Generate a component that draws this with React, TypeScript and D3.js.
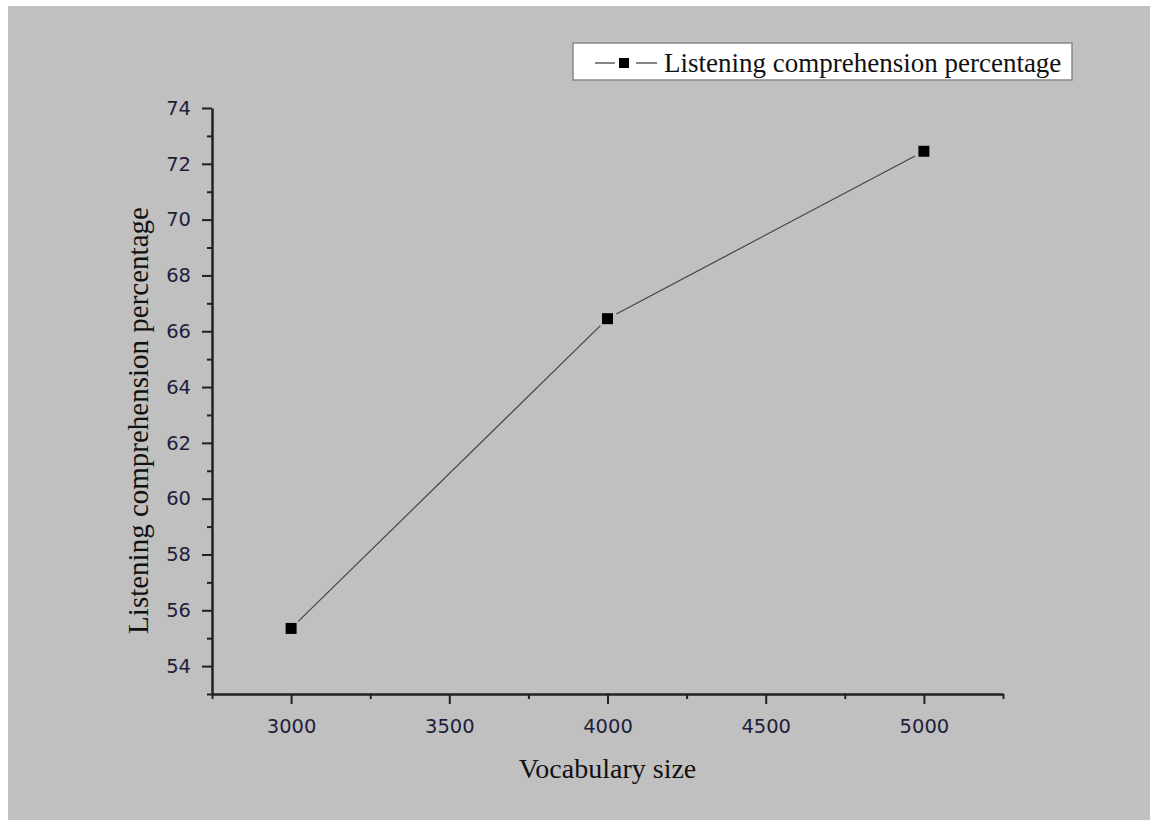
import React, { useRef, useEffect } from "react";
import * as d3 from "d3";

// values
const vocabSizes = [3000, 4000, 5000];
const listeningPct = [55.35, 66.45, 72.45];
const xTicks = [3000, 3500, 4000, 4500, 5000];
const xMinorTicks = [2750, 3250, 3750, 4250, 4750, 5250];
const yTicks = [54, 56, 58, 60, 62, 64, 66, 68, 70, 72, 74];
const yMinorTicks = [53, 55, 57, 59, 61, 63, 65, 67, 69, 71, 73];
const seriesName = "Listening comprehension percentage";
const xTitle = "Vocabulary size";
const yTitle = "Listening comprehension percentage";

const App = () => {
  const svgRef = useRef(null);

  useEffect(() => {
    const svg = d3.select(svgRef.current);
    svg.selectAll("*").remove();

    const width = 1150;
    const height = 820;
    const plot = { left: 212, right: 1003, top: 108, bottom: 694 };
    const serif = "'Liberation Serif', 'Times New Roman', serif";
    const sans = "'DejaVu Sans', Verdana, sans-serif";
    const axisColor = "#222";

    svg
      .append("rect")
      .attr("x", 8)
      .attr("y", 6)
      .attr("width", width - 8)
      .attr("height", height - 6)
      .attr("fill", "#c0c0c0");

    const x = d3.scaleLinear().domain([2750, 5250]).range([plot.left, plot.right]);
    const y = d3.scaleLinear().domain([53, 74]).range([plot.bottom, plot.top]);

    // minor ticks
    const xMinor = svg
      .append("g")
      .attr("transform", `translate(0,${plot.bottom})`)
      .call(d3.axisBottom(x).tickValues(xMinorTicks).tickSize(5).tickSizeOuter(0).tickFormat(() => ""));
    const yMinor = svg
      .append("g")
      .attr("transform", `translate(${plot.left},0)`)
      .call(d3.axisLeft(y).tickValues(yMinorTicks).tickSize(5).tickSizeOuter(0).tickFormat(() => ""));
    [xMinor, yMinor].forEach((g) => {
      g.select(".domain").remove();
      g.selectAll("line").attr("stroke", axisColor).attr("stroke-width", 2);
    });

    // major ticks + domain
    const xAxis = svg
      .append("g")
      .attr("transform", `translate(0,${plot.bottom})`)
      .call(d3.axisBottom(x).tickValues(xTicks).tickSize(10).tickSizeOuter(0).tickPadding(15).tickFormat(d3.format("d")));
    const yAxis = svg
      .append("g")
      .attr("transform", `translate(${plot.left},0)`)
      .call(d3.axisLeft(y).tickValues(yTicks).tickSize(10).tickSizeOuter(0).tickPadding(11).tickFormat(d3.format("d")));
    [xAxis, yAxis].forEach((g) => {
      g.select(".domain").attr("stroke", axisColor).attr("stroke-width", 2.5);
      g.selectAll("line").attr("stroke", axisColor).attr("stroke-width", 2);
      g.selectAll("text")
        .attr("font-family", sans)
        .attr("font-size", 19.5)
        .attr("fill", "#1e1e3c");
    });

    // line with gaps around the markers
    const pts = vocabSizes.map((v, i) => [x(v), y(listeningPct[i])]);
    const gap = 10;
    d3.pairs(pts).forEach(([a, b]) => {
      const dx = b[0] - a[0];
      const dy = b[1] - a[1];
      const len = Math.hypot(dx, dy);
      const ux = dx / len;
      const uy = dy / len;
      svg
        .append("line")
        .attr("x1", a[0] + ux * gap)
        .attr("y1", a[1] + uy * gap)
        .attr("x2", b[0] - ux * gap)
        .attr("y2", b[1] - uy * gap)
        .attr("stroke", "#444")
        .attr("stroke-width", 1.2);
    });

    const size = 11;
    svg
      .append("g")
      .selectAll("rect")
      .data(vocabSizes)
      .join("rect")
      .attr("x", (d) => x(d) - size / 2)
      .attr("y", (d, i) => y(listeningPct[i]) - size / 2)
      .attr("width", size)
      .attr("height", size)
      .attr("fill", "#000");

    // axis titles
    svg
      .append("text")
      .attr("x", (plot.left + plot.right) / 2)
      .attr("y", 778)
      .attr("text-anchor", "middle")
      .attr("font-family", serif)
      .attr("font-size", 28)
      .attr("fill", "#111")
      .text(xTitle);

    svg
      .append("text")
      .attr("transform", `translate(148,${(208 + 633) / 2}) rotate(-90)`)
      .attr("text-anchor", "middle")
      .attr("font-family", serif)
      .attr("font-size", 29)
      .attr("fill", "#111")
      .text(yTitle);

    // legend
    const legend = svg.append("g");
    legend
      .append("rect")
      .attr("x", 573)
      .attr("y", 43)
      .attr("width", 499)
      .attr("height", 37)
      .attr("fill", "#fff")
      .attr("stroke", "#888")
      .attr("stroke-width", 1.5);
    legend
      .append("line")
      .attr("x1", 595)
      .attr("x2", 615)
      .attr("y1", 63)
      .attr("y2", 63)
      .attr("stroke", "#333")
      .attr("stroke-width", 1.2);
    legend
      .append("line")
      .attr("x1", 636)
      .attr("x2", 657)
      .attr("y1", 63)
      .attr("y2", 63)
      .attr("stroke", "#333")
      .attr("stroke-width", 1.2);
    legend
      .append("rect")
      .attr("x", 619)
      .attr("y", 58)
      .attr("width", 10)
      .attr("height", 10)
      .attr("fill", "#000");
    legend
      .append("text")
      .attr("x", 664)
      .attr("y", 72)
      .attr("font-family", serif)
      .attr("font-size", 27)
      .attr("fill", "#111")
      .text(seriesName);
  }, []);

  return (
    <svg
      ref={svgRef}
      width={1150}
      height={820}
      style={{ position: "absolute", left: 0, top: 0 }}
    ></svg>
  );
};

export default App;
